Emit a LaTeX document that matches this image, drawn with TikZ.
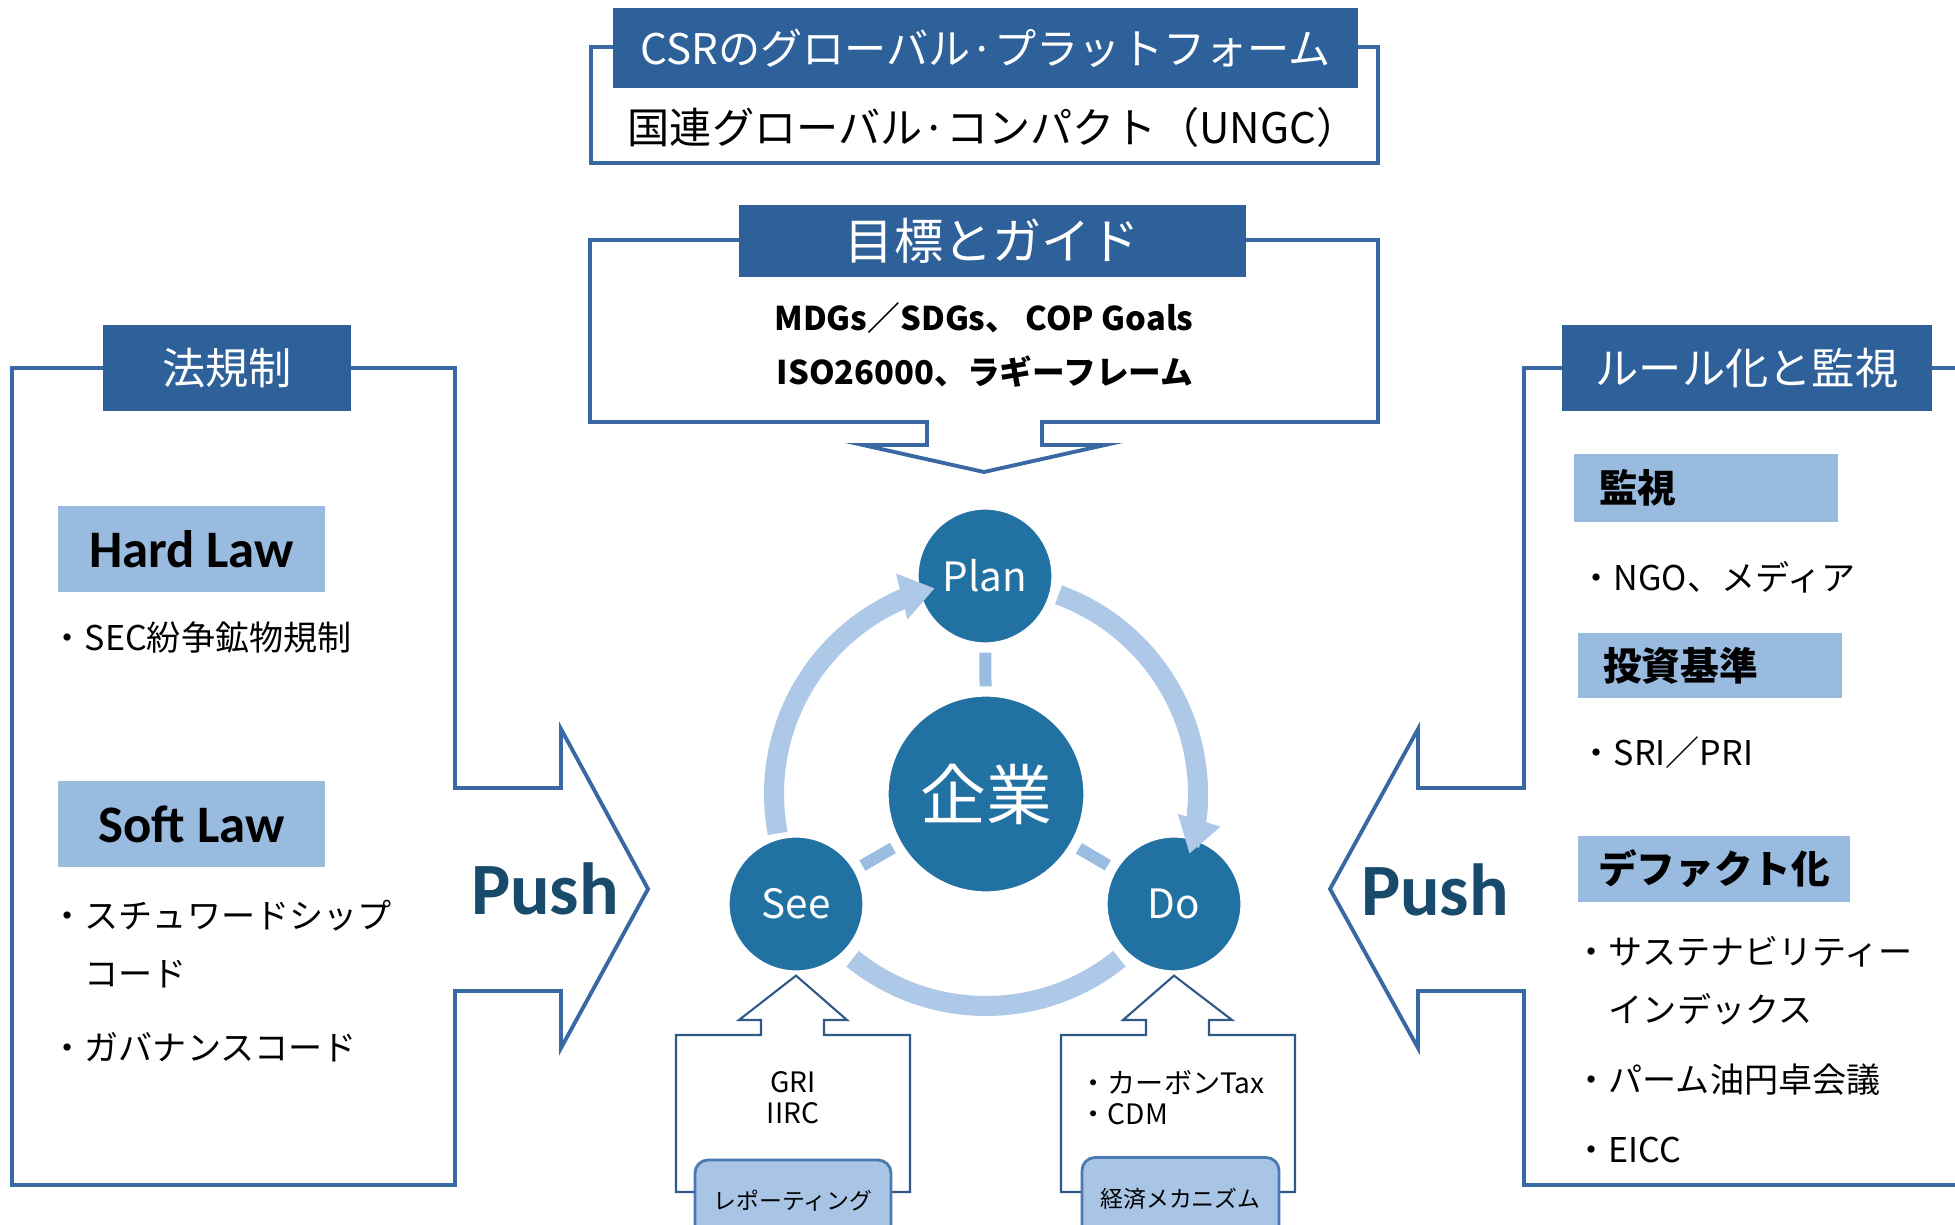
\documentclass[tikz,border=0pt]{standalone}
\usepackage{fontspec}
\setmainfont{Noto Sans CJK JP}
\newfontfamily\calfont{Carlito}
\usepackage{tikz}
\usetikzlibrary{arrows.meta,positioning}
\definecolor{headblue}{RGB}{46,96,153}
\definecolor{lineblue}{RGB}{58,104,163}
\definecolor{subline}{RGB}{47,90,135}
\definecolor{boxblue}{RGB}{153,187,224}
\definecolor{circblue}{RGB}{33,113,162}
\definecolor{ringblue}{RGB}{173,201,231}
\definecolor{linkblue}{RGB}{155,189,225}
\definecolor{pushblue}{RGB}{24,74,107}
\definecolor{tagblue}{RGB}{169,197,230}
\definecolor{tagline}{RGB}{74,122,176}

\begin{document}
\begin{tikzpicture}[
    font=\fontsize{9.7}{12}\selectfont,
    frame/.style={
		draw=lineblue,
		line width=1.1pt,
		fill=white
	},
    subframe/.style={
		draw=subline,
		line width=0.6pt,
		fill=white
	},
    headbar/.style={
		rectangle,
		fill=headblue,
		text=white,
		inner sep=0pt,
		font=\fontsize{12.3}{14}\selectfont
	},
    lawbox/.style={
		rectangle,
		fill=boxblue,
		inner sep=0pt,
		minimum width=2.67cm,
		minimum height=0.86cm,
		font=\calfont\bfseries\fontsize{15}{18}\selectfont
	},
    rulebox/.style={
		rectangle,
		fill=boxblue,
		inner xsep=0.25cm,
		inner ysep=0pt,
		align=left,
		font=\bfseries\fontsize{11}{13}\selectfont
	},
    item/.style={
		anchor=west,
		inner sep=0pt,
		align=left,
		font=\fontsize{9.7}{16.5}\selectfont
	},
    goal/.style={
		inner sep=0pt,
		font=\bfseries\fontsize{9.3}{11}\selectfont
	},
    push/.style={
		inner sep=0pt,
		text=pushblue,
		font=\calfont\bfseries\fontsize{21}{24}\selectfont
	},
    phase/.style={
		circle,
		fill=circblue,
		draw=white,
		line width=1.5pt,
		text=white,
		inner sep=0pt,
		minimum size=1.38cm,
		font=\fontsize{11.5}{13}\selectfont
	},
    ring/.style={
		draw=ringblue,
		line width=0.2cm
	},
    link/.style={
		draw=linkblue,
		line width=0.12cm,
		shorten <=0.05cm,
		shorten >=0.05cm
	},
    mechtag/.style={
		rectangle,
		rounded corners=0.13cm,
		fill=tagblue,
		draw=tagline,
		line width=0.8pt,
		inner sep=0pt,
		minimum width=1.96cm,
		minimum height=0.82cm,
		font=\fontsize{6.5}{8}\selectfont
	},
    small/.style={
		inner sep=0pt,
		font=\fontsize{8}{8.8}\selectfont
	}
  ]
  \useasboundingbox (0,0) rectangle (19.55,-12.25);
  \clip (0,0) rectangle (19.55,-12.25);
  \fill [white] (0,0) rectangle (19.55,-12.25);

  % the center: plan - do - see
  \node [phase, minimum size=2cm, font=\fontsize{18.7}{20}\selectfont] (firm) at (9.86,-7.94) {企業};

  \draw [ring] ([shift={(190.7:2.12)}]firm.center) arc [start angle=190.7, end angle=112, radius=2.12];
  \draw [ring] ([shift={(70:2.12)}]firm.center) arc [start angle=70, end angle=-6, radius=2.12];
  \draw [ring] ([shift={(231:2.12)}]firm.center) arc [start angle=231, end angle=309, radius=2.12];

  \node [phase] (plan) at (9.85,-5.76) {Plan};
  \node [phase] (see) at (7.96,-9.04) {See};
  \node [phase] (do) at (11.74,-9.04) {Do};

  % arrow heads lie over the circles
  \draw [ring, -{Triangle[length=0.34cm, width=0.45cm]}]
    ([shift={(116:2.12)}]firm.center) arc [start angle=116, end angle=104, radius=2.12];
  \draw [ring, -{Triangle[length=0.35cm, width=0.42cm]}]
    ([shift={(-3:2.12)}]firm.center) arc [start angle=-3, end angle=-16.4, radius=2.12];

  \draw [link] (plan) -- (firm);
  \draw [link] (firm) -- (see);
  \draw [link] (firm) -- (do);

  % top: platform
  \draw [frame] (5.91,-0.47) rectangle (13.78,-1.63);
  \node [headbar, minimum width=7.45cm, minimum height=0.8cm, font=\fontsize{12}{14}\selectfont] (platform) at (9.855,-0.48) {CSRのグローバル·プラットフォーム};
  \node [inner sep=0pt, font=\fontsize{12}{14}\selectfont] (ungc) at (9.93,-1.27) {国連グローバル·コンパクト（UNGC）};

  % goals and guides
  \draw [frame] (5.90,-2.40) -- (13.78,-2.40) -- (13.78,-4.22) -- (10.42,-4.22) -- (10.42,-4.45)
    -- (11.05,-4.45) -- (9.84,-4.72) -- (8.63,-4.45) -- (9.27,-4.45) -- (9.27,-4.22)
    -- (5.90,-4.22) -- cycle;
  \node [headbar, minimum width=5.07cm, minimum height=0.72cm, font=\fontsize{14}{16}\selectfont] (goals) at (9.925,-2.41) {目標とガイド};
  \node [goal] (goal1) at (9.84,-3.18) {MDGs／SDGs、 COP Goals};
  \node [goal] (goal2) at (9.85,-3.72) {ISO26000、ラギーフレーム};

  % left: law
  \draw [frame] (0.12,-3.68) -- (4.55,-3.68) -- (4.55,-7.88) -- (5.61,-7.88) -- (5.61,-7.29)
    -- (6.48,-8.89) -- (5.61,-10.48) -- (5.61,-9.91) -- (4.55,-9.91) -- (4.55,-11.85)
    -- (0.12,-11.85) -- cycle;
  \node [headbar, minimum width=2.48cm, minimum height=0.86cm] (law) at (2.27,-3.68) {法規制};
  \node [lawbox] (hardlaw) at (1.915,-5.49) {Hard Law};
  \node [item] (sec) at (0.50,-6.38) {・SEC紛争鉱物規制};
  \node [lawbox] (softlaw) at (1.915,-8.24) {Soft Law};
  \node [item] (steward) at (0.50,-9.44) {・スチュワードシップ\\\hphantom{・}コード};
  \node [item] (governance) at (0.50,-10.47) {・ガバナンスコード};
  \node [push] (pushleft) at (5.45,-8.89) {Push};

  % right: rules and monitoring
  \draw [frame] (15.24,-3.68) -- (19.8,-3.68) -- (19.8,-11.85) -- (15.24,-11.85) -- (15.24,-9.91)
    -- (14.18,-9.91) -- (14.18,-10.48) -- (13.30,-8.89) -- (14.18,-7.29) -- (14.18,-7.88)
    -- (15.24,-7.88) -- cycle;
  \node [headbar, minimum width=3.70cm, minimum height=0.86cm] (rules) at (17.47,-3.68) {ルール化と監視};
  \node [rulebox, text width=2.14cm, minimum height=0.68cm] (watch) at (17.06,-4.88) {監視};
  \node [item] (ngo) at (15.79,-5.77) {・NGO、メディア};
  \node [rulebox, text width=2.14cm, minimum height=0.65cm] (invest) at (17.10,-6.655) {投資基準};
  \node [item] (sri) at (15.79,-7.53) {・SRI／PRI};
  \node [rulebox, inner xsep=0.2cm, text width=2.32cm, minimum height=0.66cm] (defacto) at (17.14,-8.69) {デファクト化};
  \node [item] (index) at (15.74,-9.81) {・サステナビリティー\\\hphantom{・}インデックス};
  \node [item] (palm) at (15.74,-10.80) {・パーム油円卓会議};
  \node [item] (eicc) at (15.74,-11.50) {・EICC};
  \node [push] (pushright) at (14.35,-8.90) {Push};

  % bottom: reporting and mechanisms
  \draw [subframe] (6.76,-10.35) -- (7.61,-10.35) -- (7.61,-10.20) -- (7.39,-10.20) -- (see.south)
    -- (8.47,-10.20) -- (8.24,-10.20) -- (8.24,-10.35) -- (9.10,-10.35) -- (9.10,-11.92)
    -- (6.76,-11.92) -- cycle;
  \node [small, align=center] (gri) at (7.93,-10.975) {GRI\\IIRC};
  \node [mechtag] (reporting) at (7.93,-12.01) {レポーティング};

  \draw [subframe] (10.61,-10.35) -- (11.46,-10.35) -- (11.46,-10.20) -- (11.23,-10.20) -- (do.south)
    -- (12.32,-10.20) -- (12.09,-10.20) -- (12.09,-10.35) -- (12.95,-10.35) -- (12.95,-11.92)
    -- (10.61,-11.92) -- cycle;
  \node [small, anchor=west, align=left] (tax) at (10.79,-10.975) {・カーボンTax\\・CDM};
  \node [mechtag, minimum width=1.97cm] (economy) at (11.805,-11.985) {経済メカニズム};

\end{tikzpicture}
\end{document}
